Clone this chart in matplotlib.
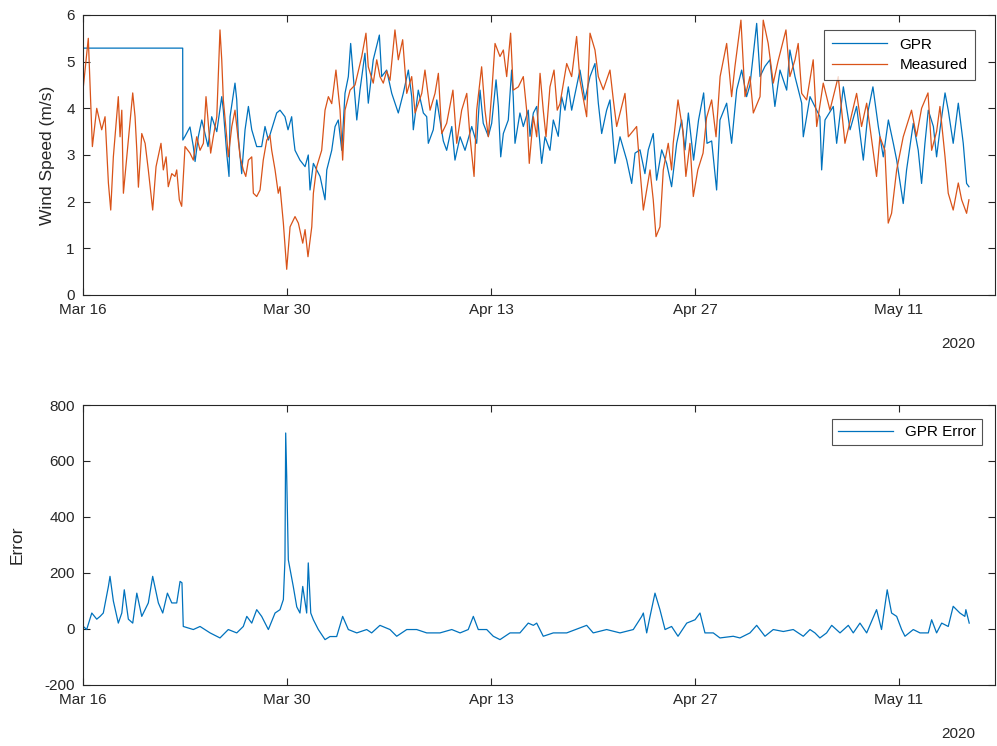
import numpy as np
import pandas as pd
import matplotlib
matplotlib.use("Agg")
import matplotlib.pyplot as plt
import matplotlib.dates as mdates

plt.rcParams['font.family'] = ['Liberation Sans Narrow', 'Liberation Sans', 'DejaVu Sans']
plt.rcParams['axes.unicode_minus'] = False

start = pd.Timestamp('2020-03-16')

# days since Mar 16 / wind speed (m/s)
gpr_days = [0.0, 6.84, 6.85, 7.0, 7.34, 7.57, 7.69, 7.91, 8.15, 8.58, 8.83, 9.18, 9.52, 9.63, 9.86,
            10.02, 10.09, 10.43, 10.55, 10.66, 10.89, 11.12, 11.35, 11.58, 11.92, 12.26, 12.49, 12.72,
            13.29, 13.52, 13.86, 14.07, 14.32, 14.44, 14.55, 14.89, 15.24, 15.46, 15.58, 15.81, 16.04,
            16.27, 16.61, 16.73, 17.07, 17.30, 17.52, 17.76, 17.98, 18.21, 18.37, 18.55, 18.79, 19.01,
            19.35, 19.58, 19.92, 20.34, 20.50, 20.84, 21.19, 21.64, 21.98, 22.33, 22.56, 22.67, 23.01,
            23.36, 23.59, 23.70, 24.04, 24.28, 24.73, 24.96, 25.31, 25.53, 25.88, 26.22, 26.68, 27.02,
            27.25, 27.47, 27.82, 28.05, 28.35, 28.51, 28.67, 28.85, 29.19, 29.42, 29.53, 29.65, 29.99,
            30.22, 30.56, 30.68, 30.91, 31.14, 31.48, 31.71, 32.05, 32.28, 32.62, 32.85, 33.08, 33.31,
            33.54, 34.11, 34.45, 34.80, 35.14, 35.37, 35.60, 35.94, 36.17, 36.51, 36.86, 37.32, 37.66,
            37.89, 38.23, 38.57, 38.80, 39.14, 39.37, 39.72, 40.06, 40.40, 40.75, 41.09, 41.32, 41.55,
            41.91, 42.25, 42.60, 42.83, 43.15, 43.49, 43.72, 44.18, 44.52, 44.87, 45.21, 45.55, 45.78,
            46.24, 46.47, 46.81, 47.15, 47.49, 47.84, 48.30, 48.52, 48.87, 49.33, 49.44, 49.90, 50.58,
            50.70, 50.93, 51.50, 51.73, 52.19, 52.65, 53.10, 53.56, 53.90, 54.22, 54.59, 54.93, 55.28,
            55.62, 55.85, 56.30, 56.53, 56.99, 57.33, 57.56, 57.79, 58.02, 58.37, 58.59, 58.82, 59.17,
            59.39, 59.73, 60.08, 60.42, 60.65, 60.81]
gpr_vals = [5.29, 5.29, 3.32, 3.4, 3.6, 3.18, 2.86, 3.39, 3.75, 3.18, 3.82, 3.5, 4.25, 3.96, 3.04,
            2.54, 3.82, 4.54, 4.18, 3.39, 2.6, 3.54, 4.04, 3.54, 3.18, 3.18, 3.61, 3.32,
            3.9, 3.96, 3.82, 3.54, 3.82, 3.39, 3.1, 2.89, 2.75, 3.0, 2.25, 2.82, 2.68,
            2.54, 2.04, 2.68, 3.1, 3.61, 3.75, 3.1, 4.32, 4.68, 5.39, 4.68, 3.75, 4.39,
            5.18, 4.11, 5.04, 5.57, 4.68, 4.82, 4.32, 3.9, 4.32, 4.82, 4.25, 3.54, 4.39,
            3.9, 3.82, 3.25, 3.54, 4.18, 3.3, 3.1, 3.61, 2.89, 3.39, 3.1, 3.61, 3.25,
            4.39, 3.68, 3.4, 3.68, 4.61, 4.04, 2.96, 3.46, 3.75, 4.82, 4.25, 3.25, 3.9,
            3.61, 3.96, 3.4, 3.9, 4.04, 2.82, 3.39, 3.1, 3.75, 3.4, 4.25, 3.96, 4.46,
            3.96, 4.82, 4.18, 4.68, 4.96, 4.11, 3.46, 3.96, 4.18, 2.82, 3.39, 2.89, 2.39,
            3.04, 3.11, 2.6, 3.11, 3.46, 2.46, 3.11, 2.82, 2.32, 3.25, 3.75, 3.11, 3.9,
            2.89, 3.75, 4.33, 3.25, 3.3, 2.25, 3.75, 4.11, 3.25, 4.4, 4.82, 4.25, 4.5,
            5.82, 4.68, 4.9, 5.04, 4.04, 4.82, 4.39, 5.25, 4.68, 4.11, 3.39, 4.25, 3.82,
            2.68, 3.75, 4.04, 3.25, 4.46, 3.54, 4.04, 2.89, 3.96, 4.46, 3.61, 2.96, 3.75,
            3.25, 2.89, 1.96, 2.68, 3.68, 3.1, 2.39, 3.25, 3.96, 3.61, 2.96, 3.54, 4.33,
            3.96, 3.25, 4.11, 3.25, 2.39, 2.32]

meas_days = [0.02, 0.36, 0.64, 0.94, 1.28, 1.51, 1.74, 1.90, 2.08, 2.42, 2.54, 2.66, 2.77, 3.00,
             3.41, 3.57, 3.69, 3.80, 4.03, 4.26, 4.48, 4.78, 5.01, 5.35, 5.51, 5.70, 5.85, 6.09,
             6.31, 6.43, 6.61, 6.77, 7.00, 7.34, 7.57, 7.80, 8.03, 8.26, 8.44, 8.56, 8.76, 8.94,
             9.18, 9.40, 9.52, 9.63, 9.86, 9.97, 10.21, 10.43, 10.78, 11.00, 11.17, 11.35, 11.58,
             11.69, 11.92, 12.15, 12.37, 12.61, 12.83, 12.95, 13.18, 13.40, 13.52, 13.75, 13.98,
             14.21, 14.55, 14.78, 15.08, 15.24, 15.44, 15.70, 15.81, 16.04, 16.38, 16.61, 16.84,
             17.07, 17.36, 17.64, 17.82, 17.98, 18.33, 18.67, 19.13, 19.42, 19.58, 19.92, 20.16,
             20.38, 20.61, 20.84, 21.07, 21.41, 21.64, 21.94, 22.22, 22.56, 22.79, 23.25, 23.47,
             23.82, 24.16, 24.39, 24.62, 24.96, 25.39, 25.65, 25.99, 26.34, 26.56, 26.84, 27.02,
             27.36, 27.59, 27.82, 28.05, 28.28, 28.62, 28.85, 29.08, 29.35, 29.53, 29.88, 30.22,
             30.45, 30.63, 30.91, 31.14, 31.37, 31.59, 31.78, 32.05, 32.33, 32.55, 32.74, 33.20,
             33.54, 33.88, 34.11, 34.57, 34.80, 35.14, 35.37, 35.71, 36.17, 36.40, 36.63, 37.20,
             37.43, 38.00, 38.23, 38.46, 38.92, 39.14, 39.33, 39.60, 39.83, 40.17, 40.40, 40.51,
             40.84, 41.18, 41.38, 41.66, 41.89, 42.20, 42.56, 42.80, 43.15, 43.45, 43.73, 44.18,
             44.52, 44.75, 45.16, 45.44, 45.78, 46.01, 46.47, 46.69, 47.03, 47.38, 47.70, 48.25,
             48.52, 48.87, 49.09, 49.33, 49.67, 50.12, 50.36, 50.81, 51.27, 51.84, 52.30, 53.10,
             53.44, 53.79, 54.01, 54.47, 54.70, 55.04, 55.27, 55.50, 55.85, 56.30, 56.87, 57.21,
             57.56, 58.00, 58.25, 58.59, 58.82, 59.17, 59.39, 59.73, 60.08, 60.31, 60.65, 60.81]
meas_vals = [4.46, 5.5, 3.18, 4.0, 3.54, 3.82, 2.4, 1.82, 2.96, 4.25, 3.39, 3.96, 2.18, 2.96,
             4.33, 3.82, 3.1, 2.31, 3.46, 3.25, 2.68, 1.82, 2.75, 3.25, 2.68, 2.96, 2.32, 2.6,
             2.54, 2.68, 2.04, 1.9, 3.18, 3.04, 2.89, 3.39, 3.1, 3.25, 4.25, 3.82, 3.04, 3.39,
             3.82, 5.68, 5.04, 4.18, 3.39, 2.96, 3.61, 3.96, 2.96, 2.68, 2.54, 2.89, 2.96,
             2.18, 2.11, 2.25, 2.89, 3.32, 3.42, 3.1, 2.68, 2.18, 2.32, 1.54, 0.55,
             1.46, 1.68, 1.54, 1.11, 1.4, 0.82, 1.46, 2.18, 2.75, 3.1, 3.96, 4.25,
             4.1, 4.82, 3.96, 2.89, 3.96, 4.39, 4.5, 5.11, 5.61, 4.89, 4.54, 5.04,
             4.68, 4.54, 4.8, 4.6, 5.68, 5.04, 5.47, 4.32, 4.68, 3.9, 4.32, 4.82,
             3.96, 4.32, 4.75, 3.46, 3.68, 4.39, 3.25, 3.96, 4.32, 3.39, 2.54, 3.96,
             4.89, 3.96, 3.39, 4.32, 5.39, 5.11, 5.25, 4.68, 5.61, 4.39, 4.46, 4.68,
             3.96, 2.82, 3.82, 3.39, 4.75, 3.96, 3.39, 4.46, 4.82, 3.96, 4.1, 4.96,
             4.68, 5.54, 4.6, 3.82, 5.61, 5.25, 4.68, 4.4, 4.82, 4.18, 3.61, 4.32,
             3.39, 3.61, 2.68, 1.82, 2.68, 2.04, 1.25, 1.46, 2.68, 3.25, 2.68, 3.25,
             4.18, 3.5, 2.54, 3.25, 2.11, 2.68, 3.04, 3.8, 4.18, 3.39, 4.68, 5.39,
             4.25, 4.9, 5.89, 4.25, 4.68, 3.9, 4.25, 5.89, 5.39, 4.54, 5.0, 5.68,
             4.68, 5.04, 5.39, 4.32, 4.18, 5.04, 3.61, 4.54, 3.96, 4.68, 3.25, 4.32,
             3.61, 4.11, 3.61, 2.54, 3.39, 3.1, 1.54, 1.75, 2.68, 3.39, 3.96, 3.4,
             4.0, 4.33, 3.1, 3.5, 4.04, 2.96, 2.18, 1.82, 2.4, 2.04, 1.75, 2.04]

# days since Mar 16 / GPR error
err_days = [0.02, 0.25, 0.60, 0.94, 1.17, 1.39, 1.74, 1.85, 2.08, 2.42, 2.66, 2.83, 3.11, 3.41,
            3.69, 4.03, 4.48, 4.78, 5.17, 5.47, 5.79, 6.09, 6.43, 6.66, 6.79, 6.88, 7.57, 8.03,
            8.72, 9.40, 9.97, 10.55, 11.00, 11.24, 11.58, 11.92, 12.26, 12.72, 13.18, 13.52,
            13.75, 13.86, 13.91, 13.98, 14.09, 14.43, 14.67, 14.89, 15.08, 15.35, 15.46, 15.63,
            15.81, 16.15, 16.61, 16.95, 17.41, 17.82, 18.21, 18.79, 19.47, 19.81, 20.38, 21.07,
            21.53, 22.22, 22.90, 23.59, 24.50, 25.31, 25.88, 26.44, 26.79, 27.13, 27.71, 28.16,
            28.62, 29.31, 29.99, 30.56, 30.91, 31.14, 31.59, 32.28, 33.20, 34.57, 35.02, 35.94,
            36.86, 37.77, 38.35, 38.46, 38.69, 38.92, 39.26, 39.60, 39.95, 40.40, 40.84, 41.44,
            42.01, 42.35, 42.69, 43.26, 43.72, 44.63, 45.09, 45.78, 46.24, 46.81, 47.38, 48.07,
            48.75, 49.44, 49.90, 50.24, 50.58, 51.04, 51.39, 51.96, 52.53, 52.87, 53.33, 53.79,
            54.47, 54.81, 55.20, 55.50, 55.85, 56.19, 56.42, 56.99, 57.45, 58.02, 58.25, 58.59,
            58.94, 59.39, 59.73, 60.19, 60.53, 60.60, 60.83]
err_vals = [9, -2, 57, 35, 45, 57, 152, 188, 100, 21, 57, 140, 35, 21,
            128, 45, 93, 188, 93, 57, 128, 93, 93, 170, 165, 9, -2, 9,
            -14, -32, -2, -14, 9, 45, 21, 69, 45, -2, 57, 69,
            105, 247, 700, 545, 247, 152, 79, 57, 152, 57, 236, 57,
            33, -2, -38, -27, -27, 45, -2, -14, -2, -14, 13, -2,
            -26, -2, -2, -14, -14, -2, -14, -2, 45, -2, -2, -26,
            -38, -14, -14, 21, 13, 21, -26, -14, -14, 13, -14, -2,
            -14, -2, 45, 57, -14, 45, 128, 69, -2, 9, -26, 21,
            33, 57, -14, -14, -32, -26, -32, -14, 13, -26, -2, -9,
            -2, -26, -2, -14, -32, -14, 13, -14, 13, -14, 21, -14,
            69, -2, 140, 57, 45, -2, -26, -2, -14, -14, 33, -14,
            21, 9, 81, 57, 45, 69, 21]

def to_dates(days):
    return start + pd.to_timedelta(np.array(days), unit='D')

blue = '#0072BD'
orange = '#D95319'
axcol = '#262626'

fig = plt.figure(figsize=(9.97, 7.46), dpi=100)
ax1 = fig.add_axes([0.0833, 0.6046, 0.9147, 0.3753])
ax2 = fig.add_axes([0.0833, 0.0818, 0.9147, 0.3753])

ax1.plot(to_dates(gpr_days), gpr_vals, color=blue, lw=0.9, label='GPR')
ax1.plot(to_dates(meas_days), meas_vals, color=orange, lw=0.9, label='Measured')
ax2.plot(to_dates(err_days), err_vals, color=blue, lw=0.9, label='GPR Error')

xmin = start
xmax = start + pd.Timedelta(days=62.6)
for ax in (ax1, ax2):
    ax.set_xlim(xmin, xmax)
    ax.set_xticks(pd.date_range('2020-03-16', periods=5, freq='14D'))
    ax.xaxis.set_major_formatter(mdates.DateFormatter('%b %d'))
    ax.tick_params(direction='in', length=5, width=0.8, colors=axcol, labelsize=11,
                   top=True, right=True, pad=6)
    for s in ax.spines.values():
        s.set_color(axcol)
        s.set_linewidth(0.8)
    ax.text(0.978, -0.175, '2020', transform=ax.transAxes, ha='right', va='center',
            fontsize=11, color=axcol)

ax1.set_ylim(0, 6)
ax1.set_yticks(range(0, 7))
ax1.set_ylabel('Wind Speed (m/s)', fontsize=12.5, color=axcol, labelpad=8)
ax2.set_ylim(-200, 800)
ax2.set_yticks(range(-200, 801, 200))
ax2.set_ylabel('Error', fontsize=12.5, color=axcol, labelpad=14)

leg1 = ax1.legend(loc='upper right', bbox_to_anchor=(0.978, 0.946), borderaxespad=0,
                  fontsize=11, frameon=True, fancybox=False, edgecolor=axcol,
                  handlelength=3.6, borderpad=0.5, labelspacing=0.4)
leg1.get_frame().set_linewidth(0.8)
leg2 = ax2.legend(loc='upper right', bbox_to_anchor=(0.986, 0.95), borderaxespad=0,
                  fontsize=11, frameon=True, fancybox=False, edgecolor=axcol,
                  handlelength=3.6, borderpad=0.4)
leg2.get_frame().set_linewidth(0.8)

fig.savefig('out.png', dpi=100)
